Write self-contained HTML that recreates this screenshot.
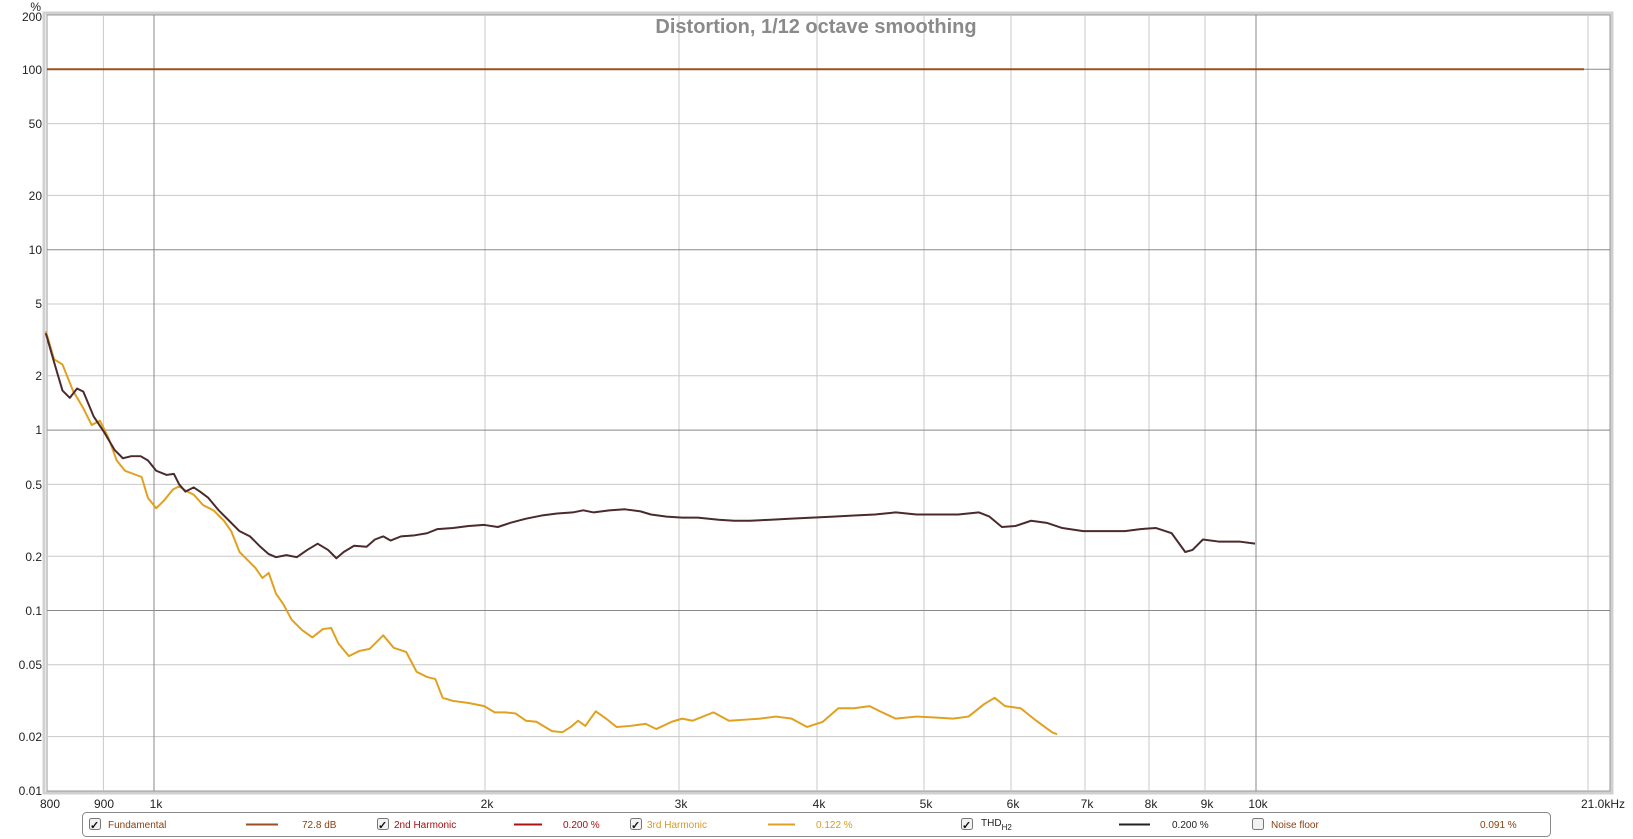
<!DOCTYPE html>
<html><head><style>
body{margin:0;background:#fff;font-family:"Liberation Sans",Arial,sans-serif;}
svg{display:block}
</style></head><body>
<svg width="1633" height="839" xmlns="http://www.w3.org/2000/svg" font-family="Liberation Sans, Arial, sans-serif">
<rect width="1633" height="839" fill="#fff"/>
<!-- plot frame shadow -->
<rect x="44" y="13" width="1568" height="780" fill="none" stroke="#d0d0d0" stroke-width="3"/>
<rect x="47" y="15" width="1563" height="776" fill="#fff" stroke="#999" stroke-width="1"/>
<g stroke="#c8c8c8" stroke-width="1">
<!-- horizontal grid -->
<line x1="47" x2="1610" y1="123.6" y2="123.6"/>
<line x1="47" x2="1610" y1="195.4" y2="195.4"/>
<line x1="47" x2="1610" y1="304.0" y2="304.0"/>
<line x1="47" x2="1610" y1="375.8" y2="375.8"/>
<line x1="47" x2="1610" y1="484.4" y2="484.4"/>
<line x1="47" x2="1610" y1="556.2" y2="556.2"/>
<line x1="47" x2="1610" y1="664.8" y2="664.8"/>
<line x1="47" x2="1610" y1="736.6" y2="736.6"/>
<!-- vertical grid -->
<line x1="103.4" x2="103.4" y1="15" y2="791"/>
<line x1="485" x2="485" y1="15" y2="791"/>
<line x1="679" x2="679" y1="15" y2="791"/>
<line x1="817" x2="817" y1="15" y2="791"/>
<line x1="924" x2="924" y1="15" y2="791"/>
<line x1="1011" x2="1011" y1="15" y2="791"/>
<line x1="1085" x2="1085" y1="15" y2="791"/>
<line x1="1149" x2="1149" y1="15" y2="791"/>
<line x1="1205" x2="1205" y1="15" y2="791"/>
<line x1="1588" x2="1588" y1="15" y2="791"/>
</g>
<g stroke="#888" stroke-width="1">
<line x1="47" x2="1610" y1="69.3" y2="69.3"/>
<line x1="47" x2="1610" y1="249.7" y2="249.7"/>
<line x1="47" x2="1610" y1="430.1" y2="430.1"/>
<line x1="47" x2="1610" y1="610.5" y2="610.5"/>
<line x1="154" x2="154" y1="15" y2="791"/>
<line x1="1256" x2="1256" y1="15" y2="791"/>
</g>
<text x="816" y="33" text-anchor="middle" font-size="20" font-weight="bold" fill="#8a8a8a">Distortion, 1/12 octave smoothing</text>
<g font-size="12" fill="#222" text-anchor="end">
<text x="41" y="11">%</text>
<text x="42" y="21">200</text>
<text x="42" y="74">100</text>
<text x="42" y="128">50</text>
<text x="42" y="200">20</text>
<text x="42" y="254">10</text>
<text x="42" y="308">5</text>
<text x="42" y="380">2</text>
<text x="42" y="434">1</text>
<text x="42" y="489">0.5</text>
<text x="42" y="561">0.2</text>
<text x="42" y="615">0.1</text>
<text x="42" y="669">0.05</text>
<text x="42" y="741">0.02</text>
<text x="42" y="795">0.01</text>
</g>
<g font-size="12" fill="#222" text-anchor="middle">
<text x="50" y="808">800</text>
<text x="104" y="808">900</text>
<text x="156" y="808">1k</text>
<text x="487" y="808">2k</text>
<text x="681" y="808">3k</text>
<text x="819" y="808">4k</text>
<text x="926" y="808">5k</text>
<text x="1013" y="808">6k</text>
<text x="1087" y="808">7k</text>
<text x="1151" y="808">8k</text>
<text x="1207" y="808">9k</text>
<text x="1258" y="808">10k</text>
<text x="1603" y="808">21.0kHz</text>
</g>
<line x1="47" x2="1584" y1="69.3" y2="69.3" stroke="#9a5020" stroke-width="2"/>
<g transform="scale(1.0415)" fill="none" stroke-width="1.9" stroke-linejoin="round">
<polyline stroke="#e0a020" points="44,318 52,345 60,350 70,375 80,392 88,408 96,404 104,420 112,442 120,452 128,455 136,458 142,478 150,488 158,480 166,470 172,467 180,472 186,475 195,485 205,490 215,500 222,510 230,530 238,538 245,545 252,555 258,550 265,570 272,580 280,595 290,605 300,612 310,604 318,603 325,618 335,630 345,625 355,623 368,610 378,622 390,626 400,645 410,650 418,652 425,670 435,673 450,675 465,678 475,684 485,684 495,685 505,692 515,693 530,702 540,703 548,698 555,692 562,697 572,683 582,690 592,698 605,697 620,695 630,700 645,693 655,690 665,692 685,684 700,692 715,691 730,690 745,688 760,690 775,698 790,693 805,680 820,680 835,678 845,683 860,690 880,688 900,689 915,690 930,688 945,676 955,670 965,678 980,680 995,692 1010,703 1015,705"/>
<polyline stroke="#4a2a2c" points="44,320 52,348 60,375 67,382 74,373 80,376 90,400 100,415 110,432 118,440 126,438 135,438 142,442 150,452 160,456 167,455 172,465 178,472 186,468 192,472 200,478 210,490 220,500 230,510 240,515 250,525 258,532 265,535 275,533 285,535 295,528 305,522 315,528 323,536 330,530 340,524 352,525 360,518 368,515 375,519 385,515 398,514 410,512 420,508 435,507 450,505 465,504 478,506 490,502 505,498 520,495 535,493 550,492 560,490 570,492 585,490 600,489 615,491 625,494 640,496 655,497 670,497 690,499 705,500 720,500 740,499 760,498 780,497 800,496 820,495 840,494 860,492 880,494 900,494 920,494 940,492 950,496 962,506 975,505 990,500 1005,502 1020,507 1040,510 1060,510 1080,510 1095,508 1110,507 1125,512 1138,530 1145,528 1155,518 1170,520 1190,520 1205,522"/>
</g>
<!-- legend -->
<rect x="82.5" y="812.5" width="1468" height="24" rx="4" fill="#fff" stroke="#888"/>
<g fill="#f2f2f2" stroke="#777" stroke-width="1">
<rect x="89.5" y="818.5" width="11" height="11" rx="2"/>
<rect x="377.5" y="818.5" width="11" height="11" rx="2"/>
<rect x="630.5" y="818.5" width="11" height="11" rx="2"/>
<rect x="961.5" y="818.5" width="11" height="11" rx="2"/>
<rect x="1252.5" y="818.5" width="11" height="11" rx="2"/>
</g>
<g font-size="11" fill="#111" font-weight="bold">
<text x="90" y="829">✓</text><text x="378" y="829">✓</text><text x="631" y="829">✓</text><text x="962" y="829">✓</text>
</g>
<g font-size="10">
<text x="108" y="828" fill="#8a4010">Fundamental</text>
<text x="302" y="828" fill="#8a4010">72.8 dB</text>
<text x="394" y="828" fill="#a01010">2nd Harmonic</text>
<text x="563" y="828" fill="#a01010">0.200 %</text>
<text x="647" y="828" fill="#d89a20">3rd Harmonic</text>
<text x="816" y="828" fill="#d89a20">0.122 %</text>
<text x="981" y="826" fill="#222">THD<tspan font-size="8" dy="4">H2</tspan></text>
<text x="1172" y="828" fill="#222">0.200 %</text>
<text x="1271" y="828" fill="#8a4010">Noise floor</text>
<text x="1480" y="828" fill="#8a4010">0.091 %</text>
</g>
<line x1="246" x2="278" y1="824.5" y2="824.5" stroke="#9a5020" stroke-width="2"/>
<line x1="514" x2="542" y1="824.5" y2="824.5" stroke="#b01010" stroke-width="2"/>
<line x1="768" x2="795" y1="824.5" y2="824.5" stroke="#e0a020" stroke-width="2"/>
<line x1="1119" x2="1150" y1="824.5" y2="824.5" stroke="#222" stroke-width="2"/>
</svg>
</body></html>
